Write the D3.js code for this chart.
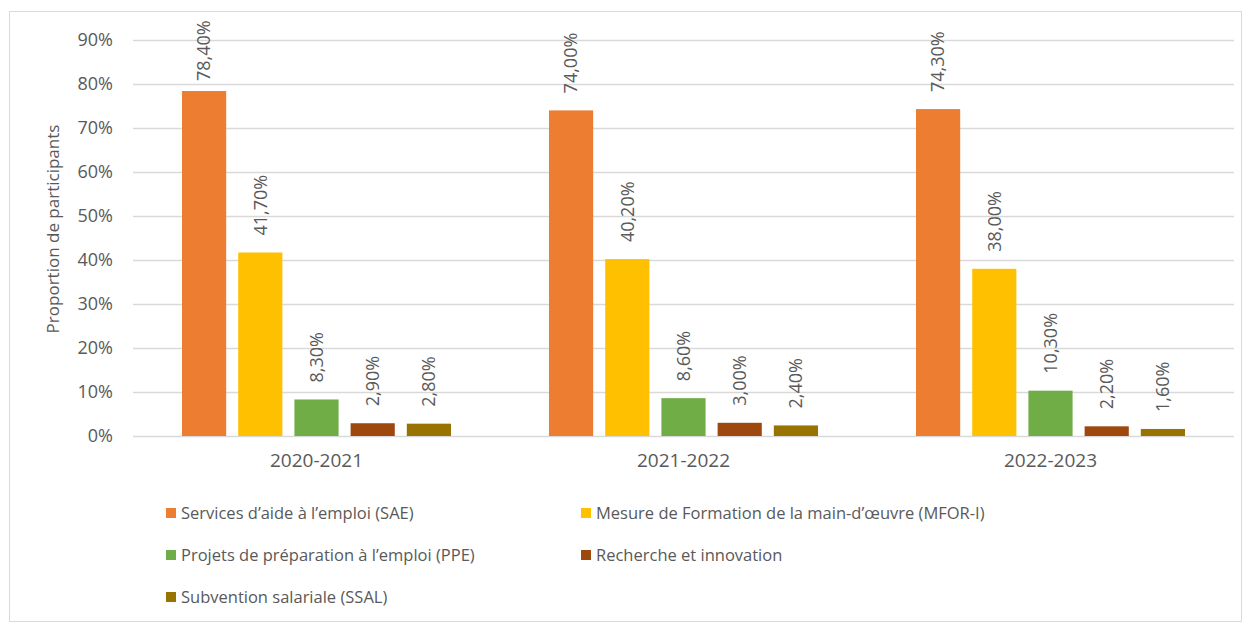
<!DOCTYPE html>
<html>
<head>
<meta charset="utf-8">
<script src="https://cdn.jsdelivr.net/npm/d3@7"></script>
<style>
  body { margin: 0; background: #fff; }
  svg text { font-family: "Open Sans", "Liberation Sans", sans-serif; fill: #595959; }
</style>
</head>
<body>
<div id="chart"></div>
<script>
// data
const periods = ["2020-2021", "2021-2022", "2022-2023"];
const series = [
  "Services d\u2019aide à l\u2019emploi (SAE)",
  "Mesure de Formation de la main-d\u2019œuvre (MFOR-I)",
  "Projets de préparation à l\u2019emploi (PPE)",
  "Recherche et innovation",
  "Subvention salariale (SSAL)"
];
const valuesSAE = [78.4, 74.0, 74.3];
const valuesMFOR = [41.7, 40.2, 38.0];
const valuesPPE = [8.3, 8.6, 10.3];
const valuesRI = [2.9, 3.0, 2.2];
const valuesSSAL = [2.8, 2.4, 1.6];
const yTicks = [0, 10, 20, 30, 40, 50, 60, 70, 80, 90];
const colors = ["#ED7D31", "#FFC000", "#70AD47", "#9E480E", "#997300"];

const allValues = [valuesSAE, valuesMFOR, valuesPPE, valuesRI, valuesSSAL];
const rows = [];
periods.forEach((p, i) => {
  series.forEach((s, j) => rows.push({ period: p, series: s, value: allValues[j][i] }));
});

// layout
const width = 1250, height = 624;
const plot = { left: 133, right: 1234, top: 40, bottom: 436 };

const svg = d3.select("#chart").append("svg")
  .attr("width", width)
  .attr("height", height);

svg.append("rect")
  .attr("x", 9.5).attr("y", 11.5)
  .attr("width", 1232).attr("height", 610)
  .attr("fill", "#fff")
  .attr("stroke", "#d9d9d9");

// scales
const scaleX = d3.scaleBand()
  .domain(periods)
  .range([plot.left, plot.right]);
const scaleX1 = d3.scaleBand()
  .domain(series)
  .range([0, scaleX.bandwidth()])
  .paddingInner(0.214)
  .paddingOuter(0.872);
const scaleY = d3.scaleLinear()
  .domain([0, 90])
  .range([plot.bottom, plot.top]);
const scaleColor = d3.scaleOrdinal().domain(series).range(colors);

const fmt = v => v.toFixed(2).replace(".", ",") + "%";

// grid + y axis
const axisY = svg.append("g")
  .attr("transform", `translate(${plot.left},0)`)
  .call(d3.axisLeft(scaleY).tickValues(yTicks).tickSize(0).tickPadding(20).tickFormat(d => d + "%"));
axisY.select(".domain").remove();
axisY.selectAll(".tick line").clone()
  .attr("x2", plot.right - plot.left)
  .attr("stroke", "#d9d9d9")
  .attr("stroke-width", 1.5);
axisY.selectAll("text").style("font-size", "18px").attr("fill", "#595959");

// x axis
const axisX = svg.append("g")
  .attr("transform", `translate(0,${plot.bottom})`)
  .call(d3.axisBottom(scaleX).tickSize(0).tickPadding(18));
axisX.select(".domain").remove();
axisX.selectAll("text").style("font-size", "19px").attr("fill", "#595959");

// bars
const groups = svg.append("g").selectAll("g")
  .data(periods)
  .join("g")
  .attr("transform", d => `translate(${scaleX(d)},0)`);

groups.selectAll("rect")
  .data(p => rows.filter(r => r.period === p))
  .join("rect")
  .attr("x", d => scaleX1(d.series))
  .attr("y", d => scaleY(d.value))
  .attr("width", scaleX1.bandwidth())
  .attr("height", d => scaleY(0) - scaleY(d.value))
  .attr("fill", d => scaleColor(d.series));

// data labels, kept inside the chart area like Excel does
const labelLen = 62;
groups.selectAll("text")
  .data(p => rows.filter(r => r.period === p))
  .join("text")
  .attr("transform", d => {
    const yEnd = Math.max(scaleY(d.value) - 17, 19 + labelLen);
    return `translate(${scaleX1(d.series) + scaleX1.bandwidth() / 2},${yEnd}) rotate(-90)`;
  })
  .attr("text-anchor", "start")
  .attr("dy", "0.35em")
  .style("font-size", "18px")
  .text(d => fmt(d.value));

// y title
svg.append("text")
  .attr("transform", `translate(59,229) rotate(-90)`)
  .attr("text-anchor", "middle")
  .style("font-size", "17px")
  .text("Proportion de participants");

// legend
const legendPos = [[166, 513], [581, 513], [166, 555], [581, 555], [166, 597]];
const legend = svg.append("g").selectAll("g")
  .data(series)
  .join("g")
  .attr("transform", (d, i) => `translate(${legendPos[i][0]},${legendPos[i][1]})`);
legend.append("rect")
  .attr("x", 0).attr("y", -5)
  .attr("width", 10).attr("height", 10)
  .attr("fill", d => scaleColor(d));
legend.append("text")
  .attr("x", 15).attr("dy", "0.35em")
  .style("font-size", "16.5px")
  .text(d => d);
</script>
</body>
</html>
